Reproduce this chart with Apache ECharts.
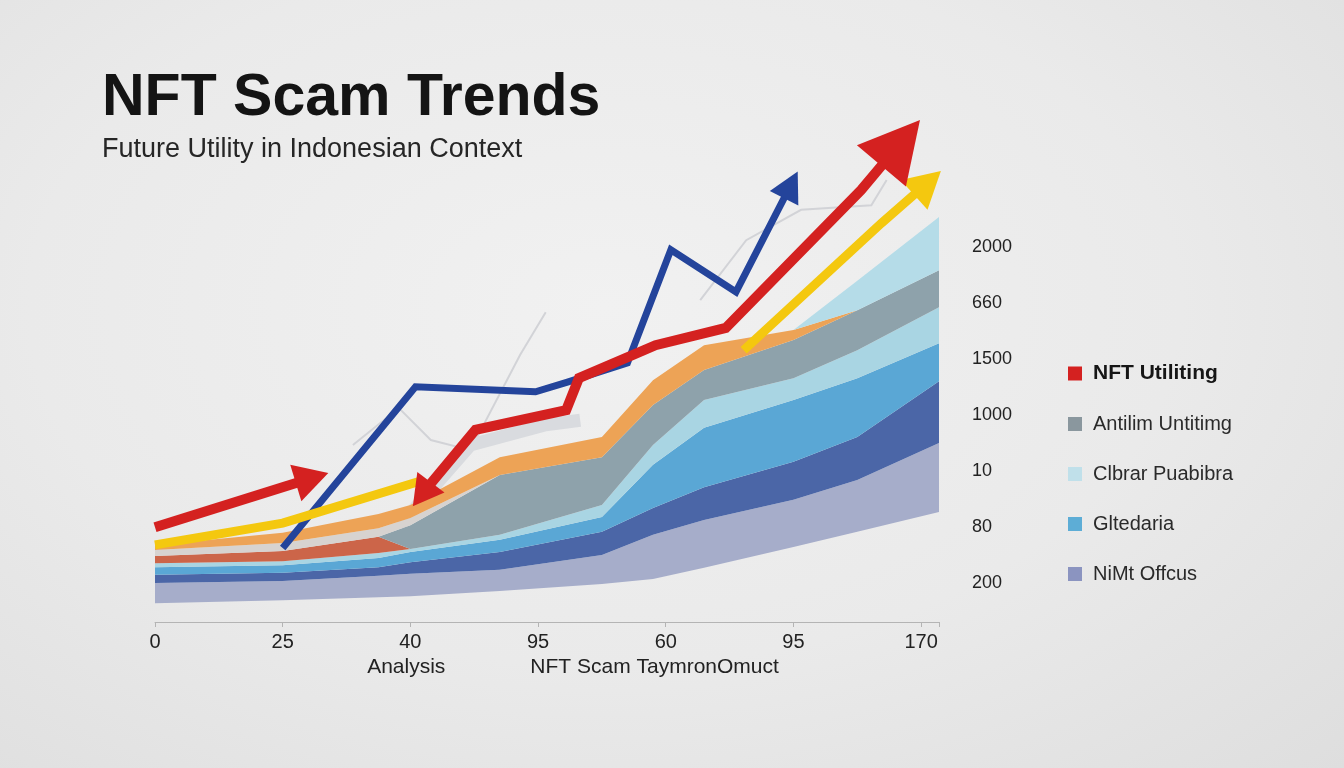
<!DOCTYPE html>
<html>
<head>
<meta charset="utf-8">
<title>NFT Scam Trends</title>
<script src="https://cdn.jsdelivr.net/npm/echarts@6/dist/echarts.min.js"></script>
<style>
  html, body { margin: 0; padding: 0; }
  body {
    width: 1344px; height: 768px; overflow: hidden;
    background: radial-gradient(ellipse at 45% 40%, #f1f1f1 0%, #eaeaea 55%, #dedede 100%);
  }
  #chart { width: 1344px; height: 768px; }
</style>
</head>
<body>
<div id="chart"></div>
<script>
// x 轴刻度文字（按图上原样）
const xLabels = ["0", "25", "40", "95", "60", "95", "170"];
// 右侧刻度文字，从上到下
const yLabels = ["2000", "660", "1500", "1000", "10", "80", "200"];

// 色带的横坐标
const bandX = [0, 1, 1.75, 2, 2.7, 3.5, 3.9, 4.3, 5, 5.5, 6.14];
// 各色带上沿（从下往上）
const baseLine      = [3.7, 4.3, 4.9, 5.1, 6.1, 7.5, 8.5, 10.7, 14.8, 17.8, 21.7];
const lavenderTop   = [7.7, 8.1, 9.1, 9.5, 10.3, 13.2, 17.2, 20.1, 24.1, 28.0, 35.3];
const darkBlueTop   = [9.3, 9.7, 10.8, 11.8, 13.8, 17.8, 22.5, 26.6, 31.6, 36.5, 47.5];
const mediumBlueTop = [10.8, 11.2, 12.6, 13.8, 16.2, 20.7, 31.0, 38.3, 43.8, 48.1, 55.0];
const paleBlueTop   = [11.6, 12.0, 13.6, 14.4, 17.2, 23.1, 34.9, 43.8, 48.1, 53.6, 62.1];
const brickTop      = [13.0, 14.0, 16.8, 14.4, 17.2, 23.1, 34.9, 43.8, 48.1, 53.6, 62.1];
const slateTop      = [13.0, 14.0, 16.8, 19.1, 29.0, 32.5, 42.8, 49.7, 55.6, 61.5, 69.4];
const beigeTop      = [14.2, 15.6, 18.5, 20.5, 29.0, 32.5, 42.8, 49.7, 55.6, 61.5, 69.4];
const orangeTop     = [15.2, 17.6, 21.3, 23.1, 32.5, 36.5, 47.7, 54.6, 57.6, 61.5, 69.4];
const cyanTop       = [15.2, 17.6, 21.3, 23.1, 32.5, 36.5, 47.7, 54.6, 57.6, 67.3, 79.9];

// 折线 [x, y]
const redArrowA = [[0, 18.7], [1.23, 28.4]];
const redMain   = [[2.09, 25.2], [2.51, 37.9], [3.22, 41.8], [3.32, 48.1], [3.92, 54.6], [4.47, 58.0], [5.53, 85.2], [5.84, 94.5]];
const blueLine  = [[1.0, 14.6], [2.04, 46.4], [2.98, 45.4], [3.23, 47.3], [3.70, 51.1], [4.04, 73.4], [4.55, 65.1], [4.98, 86.2]];
const yellowA   = [[0, 15.2], [1.0, 19.5], [2.08, 27.8]];
const yellowB   = [[4.61, 53.6], [5.69, 78.7], [6.05, 86.6]];
const faintA    = [[1.55, 34.9], [1.91, 42.2], [2.16, 35.9], [2.47, 33.9], [2.86, 52.7], [3.06, 61.1]];
const faintB    = [[4.27, 63.5], [4.63, 75.3], [5.06, 81.3], [5.61, 82.2], [5.73, 87.2]];
const ribbon    = [[1.92, 19.1], [2.47, 34.9], [3.06, 38.9], [3.33, 39.8]];

const FONT = '"Liberation Sans", Arial, sans-serif';

// 把某一点做成箭头
const arrow = (p, size, rotate) => ({
  value: p, symbol: "triangle", symbolSize: size, symbolRotate: rotate
});

const lineSeries = (data, color, width, extra) => Object.assign({
  type: "line",
  data: data,
  symbol: "none",
  silent: true,
  z: 5,
  lineStyle: { color: color, width: width, cap: "butt", join: "miter" },
  itemStyle: { color: color, borderWidth: 0 }
}, extra || {});

const series = [];

// 背景淡灰线
series.push(lineSeries(faintA, "#d2d3d7", 2, { z: 1 }));
series.push(lineSeries(faintB, "#d2d3d7", 2, { z: 1 }));
series.push(lineSeries(ribbon, "#d9dbdf", 13, { z: 1 }));

// 堆叠色带
const layers = [
  { name: "NiMt Offcus", top: lavenderTop, color: "#a6adca", icon: "#8b94c0" },
  { name: "dark", top: darkBlueTop, color: "#4b66a7", icon: "#4b66a7" },
  { name: "Gltedaria", top: mediumBlueTop, color: "#5aa7d5", icon: "#5dadd6" },
  { name: "pale", top: paleBlueTop, color: "#a9d5e3", icon: "#a9d5e3" },
  { name: "brick", top: brickTop, color: "#cc6549", icon: "#cc6549" },
  { name: "Antilim Untitimg", top: slateTop, color: "#8ea2ab", icon: "#8a979e" },
  { name: "beige", top: beigeTop, color: "#d7d3d0", icon: "#d7d3d0" },
  { name: "orange", top: orangeTop, color: "#eda356", icon: "#eda356" },
  { name: "Clbrar Puabibra", top: cyanTop, color: "#b5dce8", icon: "#c0e0ea" }
];

// 数值放第一列，让堆叠作用在 y 上
series.push({
  type: "line", stack: "bands", silent: true, symbol: "none", z: 2,
  encode: { x: 1, y: 0 },
  data: bandX.map((x, i) => [baseLine[i], x]),
  lineStyle: { width: 0 }
});
let prev = baseLine;
layers.forEach(l => {
  const below = prev;
  series.push({
    name: l.name, type: "line", stack: "bands", silent: true, symbol: "none", z: 2,
    encode: { x: 1, y: 0 },
    data: bandX.map((x, i) => [+(l.top[i] - below[i]).toFixed(2), x]),
    lineStyle: { width: 0 },
    itemStyle: { color: l.icon },
    areaStyle: { color: l.color, opacity: 1 }
  });
  prev = l.top;
});

// 彩色趋势线
series.push(lineSeries(blueLine.slice(0, -1).concat([arrow(blueLine[blueLine.length - 1], [32, 30], -27)]), "#24449b", 7, { z: 6 }));
series.push(lineSeries(yellowA, "#f4c80f", 9, { z: 7 }));
series.push(lineSeries([yellowB[0], yellowB[1], arrow(yellowB[2], [40, 36], -48)], "#f4c80f", 9, { z: 7 }));
series.push(lineSeries([redArrowA[0], arrow(redArrowA[1], [38, 34], -73)], "#d42120", 10, { z: 8 }));
series.push(lineSeries(
  [arrow(redMain[0], [34, 30], 143)].concat(redMain.slice(1, -1), [arrow(redMain[redMain.length - 1], [64, 60], -40)]),
  "#d42120", 10, { name: "NFT Utiliting", z: 8 }
));

const option = {
  animation: false,
  title: {
    text: "NFT Scam Trends",
    subtext: "Future Utility in Indonesian Context",
    left: 97,
    top: 64,
    itemGap: 8,
    textStyle: { fontFamily: FONT, fontSize: 59, fontWeight: "bold", color: "#141414" },
    subtextStyle: { fontFamily: FONT, fontSize: 27, color: "#262626" }
  },
  legend: {
    orient: "vertical",
    left: 1063,
    top: 358,
    itemWidth: 14,
    itemHeight: 14,
    itemGap: 30,
    icon: "rect",
    selectedMode: false,
    textStyle: { fontFamily: FONT, fontSize: 20, color: "#2a2a2a", lineHeight: 20, padding: [0, 0, 0, 6] },
    data: [
      { name: "NFT Utiliting", textStyle: { fontWeight: "bold", fontSize: 21, color: "#161616" } },
      "Antilim Untitimg",
      "Clbrar Puabibra",
      "Gltedaria",
      "NiMt Offcus"
    ]
  },
  grid: [
    { left: 155, top: 115, width: 784, height: 507 },
    { left: 960, top: 219, width: 2, height: 392 }
  ],
  xAxis: [
    {
      type: "value",
      gridIndex: 0,
      min: 0,
      max: 6.14,
      interval: 1,
      splitLine: { show: false },
      axisLine: { lineStyle: { color: "#b4b4b4", width: 1 } },
      axisTick: { show: true, length: 5, lineStyle: { color: "#b4b4b4" } },
      axisLabel: {
        margin: 10,
        fontFamily: FONT,
        fontSize: 20,
        color: "#222",
        formatter: v => (Number.isInteger(v) && xLabels[v] !== undefined ? xLabels[v] : "")
      },
      name: "Analysis{b|NFT Scam TaymronOmuct}",
      nameLocation: "middle",
      nameGap: 35,
      nameTextStyle: {
        fontFamily: FONT, fontSize: 21, color: "#222", padding: [0, 0, 0, 52],
        rich: { b: { fontFamily: FONT, fontSize: 21, color: "#222", padding: [0, 0, 0, 85] } }
      }
    },
    { type: "value", gridIndex: 1, show: false }
  ],
  yAxis: [
    { type: "value", gridIndex: 0, min: 0, max: 100, show: false },
    {
      type: "category",
      gridIndex: 1,
      position: "right",
      data: yLabels.slice().reverse(),
      axisLine: { show: false },
      axisTick: { show: false },
      splitLine: { show: false },
      axisLabel: { margin: 10, fontFamily: FONT, fontSize: 18, color: "#222" }
    }
  ],
  series: series
};

const chart = echarts.init(document.getElementById("chart"));
chart.setOption(option);
</script>
</body>
</html>
